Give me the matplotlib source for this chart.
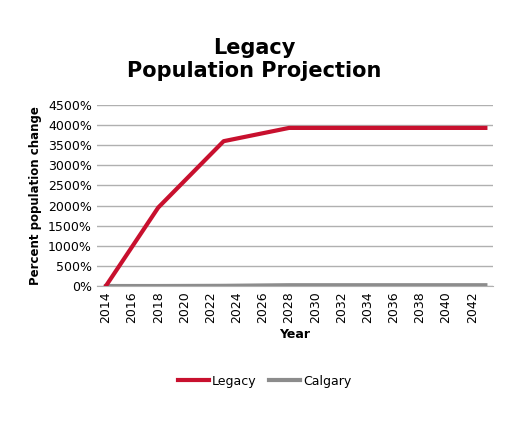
import matplotlib

matplotlib.use("Agg")
import matplotlib.pyplot as plt
from matplotlib.ticker import FuncFormatter

years = [2014, 2018, 2023, 2028, 2033, 2038, 2043]
legacy = [0, 1950, 3600, 3930, 3930, 3930, 3930]
calgary = [0, 0, 5, 20, 20, 20, 20]
tick_years = list(range(2014, 2043, 2))

fig = plt.figure(figsize=(5.09, 4.25), dpi=100)
ax = fig.add_axes([0.19, 0.327, 0.779, 0.426])

ax.plot(years, legacy, color="#c8102e", lw=3, label="Legacy", zorder=3)
ax.plot(years, calgary, color="#8c8c8c", lw=3, label="Calgary", zorder=2)

ax.set_xlim(2013.3, 2043.6)
ax.set_ylim(0, 4500)
ax.set_yticks(range(0, 4501, 500))
ax.yaxis.set_major_formatter(FuncFormatter(lambda v, p: f"{int(v)}%"))
ax.set_xticks(tick_years)
ax.tick_params(axis="x", rotation=90, labelsize=9, length=0)
ax.tick_params(axis="y", labelsize=9, length=0)
ax.grid(axis="y", color="#b0b0b0", lw=1)
ax.set_axisbelow(True)
for s in ["top", "right", "left"]:
    ax.spines[s].set_visible(False)
ax.spines["bottom"].set_color("#b0b0b0")

ax.set_xlabel("Year", fontsize=9, fontweight="bold")
ax.set_ylabel("Percent population change", fontsize=8.5, fontweight="bold")
fig.suptitle("Legacy\nPopulation Projection", fontsize=15, fontweight="bold", y=0.91)

fig.legend(loc="center", bbox_to_anchor=(0.52, 0.103), ncol=2, frameon=False,
           fontsize=9, handlelength=2.5, columnspacing=1.0, handletextpad=0.2)

fig.savefig("out.png", dpi=100)
